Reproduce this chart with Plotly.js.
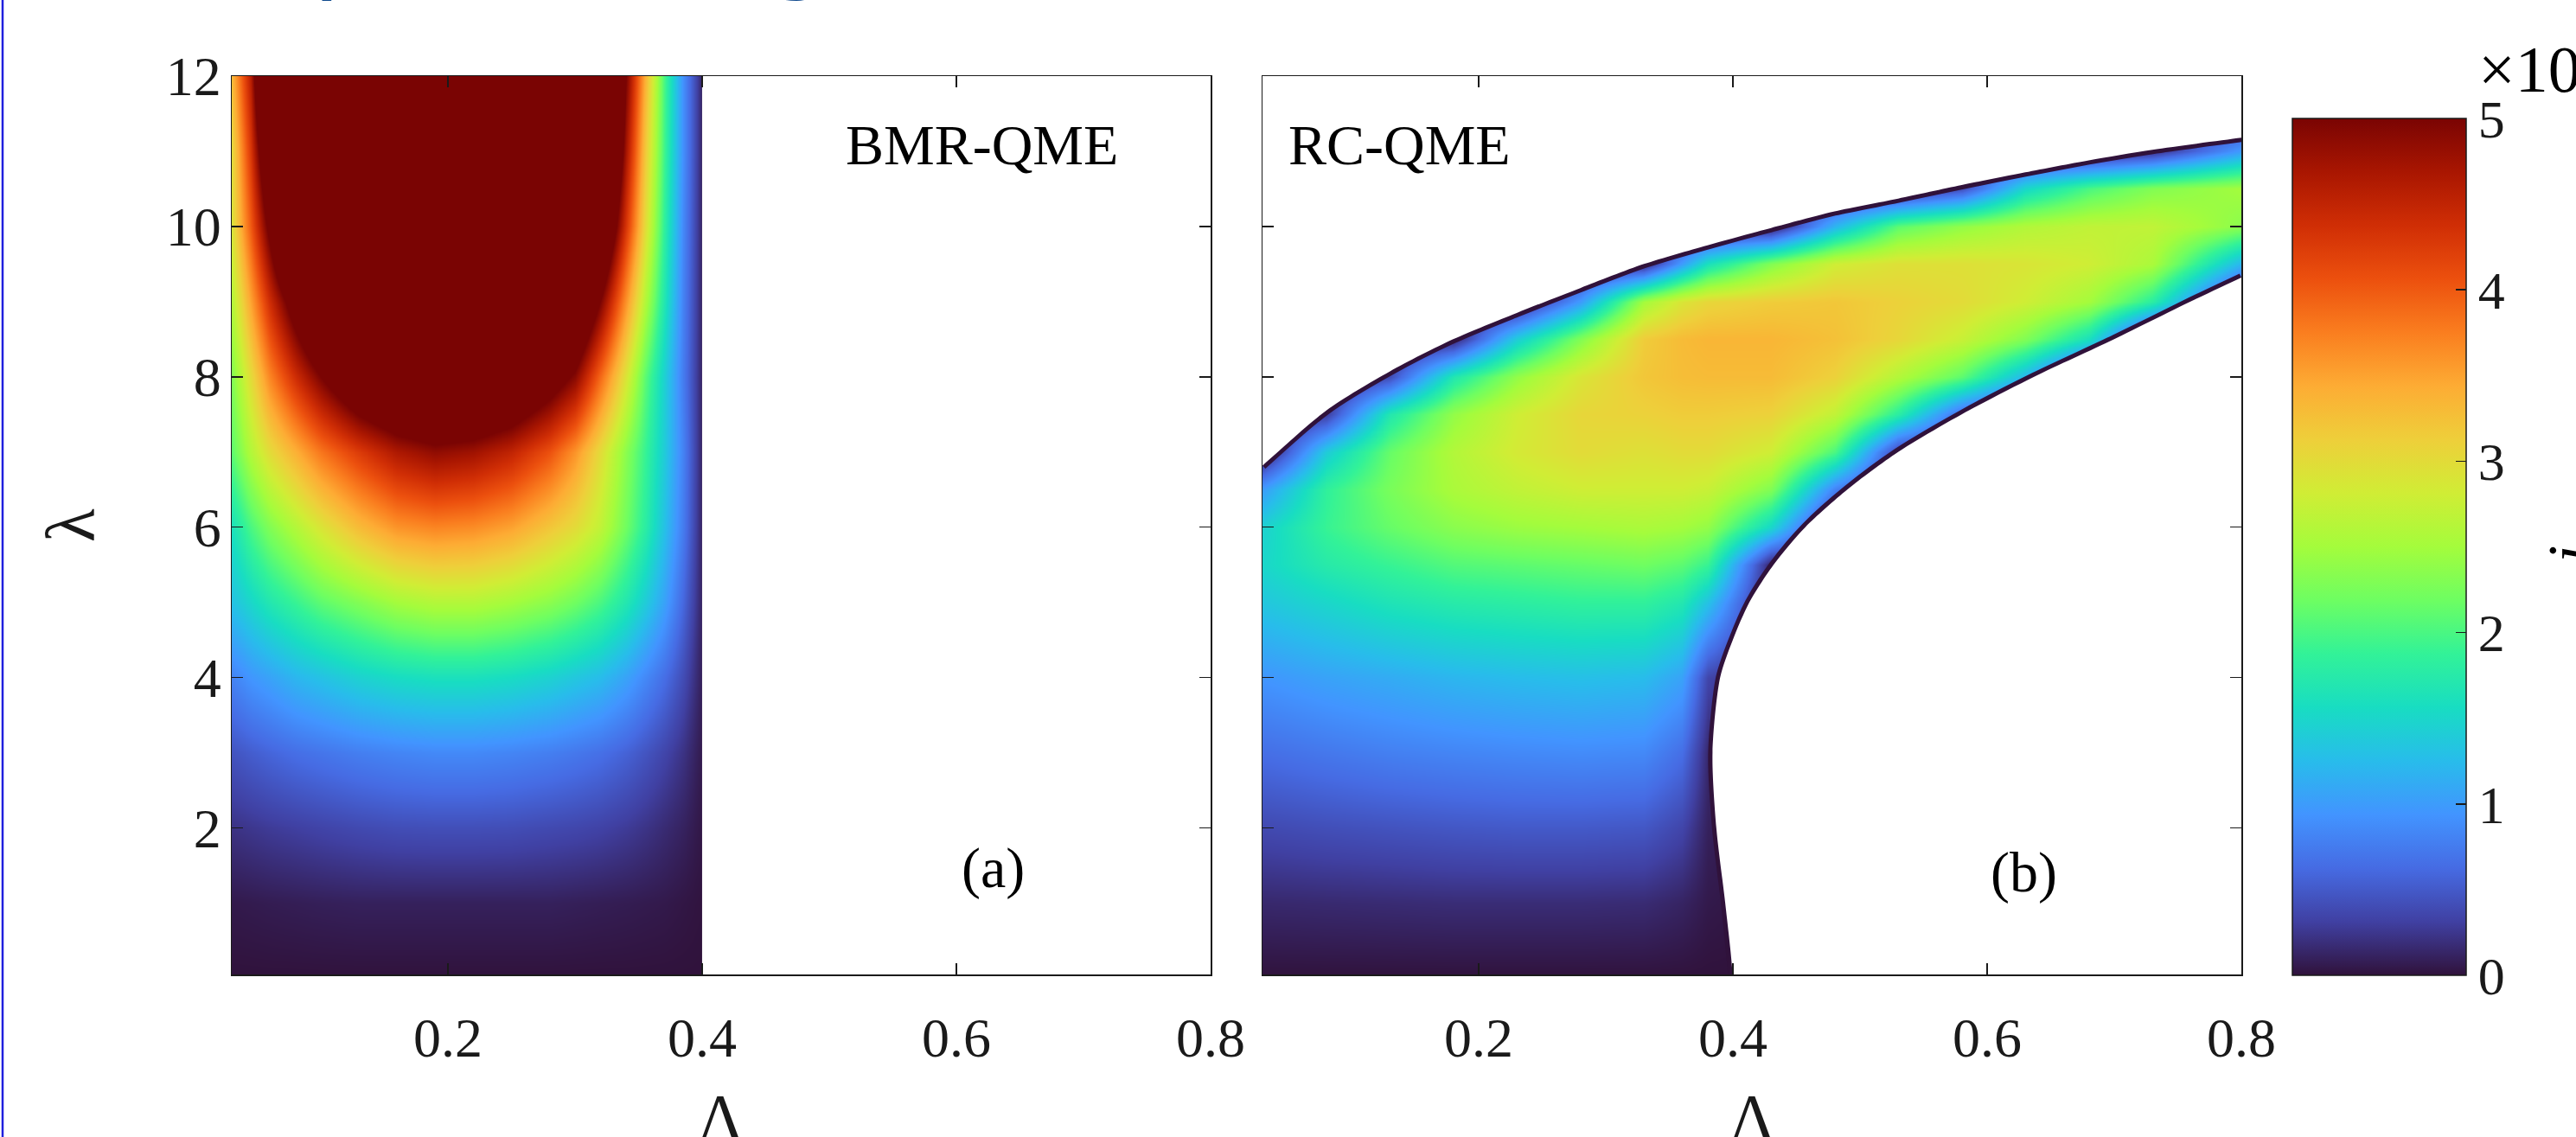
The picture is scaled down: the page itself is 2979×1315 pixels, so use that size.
<!DOCTYPE html>
<html><head><meta charset="utf-8">
<script src="https://cdn.plot.ly/plotly-3.0.1.min.js"></script>
<style>html,body{margin:0;padding:0;background:#fff;}#chart{width:2979px;height:1315px;}</style>
</head><body><div id="chart"></div>
<script>
// ---------------- data ----------------
// Panel (a) BMR-QME: x = Lambda, y = lambda, z = current
const X_A = [0.03,0.045,0.06,0.08,0.10,0.13,0.16,0.19,0.22,0.25,0.28,0.30,0.32,0.34,0.355,0.37,0.385,0.40];
const Y_A = [0,1,2,3,4,5,6,7,8,9,10,11,12];
const Z_A = [
 [0,0,0,0,0,0,0,0,0,0,0,0,0,0,0,0,0,0],
 [0.05,0.06,0.07,0.08,0.09,0.10,0.10,0.10,0.10,0.10,0.10,0.09,0.08,0.07,0.06,0.05,0.03,0.01],
 [0.22,0.25,0.28,0.31,0.34,0.38,0.41,0.42,0.42,0.41,0.38,0.36,0.33,0.28,0.23,0.17,0.11,0.03],
 [0.45,0.52,0.58,0.65,0.70,0.77,0.82,0.85,0.85,0.82,0.77,0.72,0.66,0.56,0.46,0.35,0.22,0.05],
 [0.80,0.95,1.05,1.20,1.30,1.45,1.55,1.60,1.60,1.55,1.45,1.35,1.25,1.05,0.85,0.65,0.40,0.08],
 [1.30,1.50,1.70,1.90,2.10,2.30,2.50,2.60,2.60,2.50,2.35,2.20,2.00,1.70,1.40,1.05,0.60,0.10],
 [1.60,2.00,2.30,2.60,2.90,3.30,3.60,3.70,3.65,3.50,3.20,3.00,2.70,2.20,1.80,1.30,0.75,0.10],
 [2.10,2.60,3.00,3.40,3.80,4.25,4.65,4.85,4.75,4.50,4.05,3.60,3.00,2.35,1.90,1.40,0.80,0.10],
 [2.30,3.00,3.70,4.40,5.00,5.80,6.20,6.40,6.30,6.00,5.40,4.90,3.90,2.90,2.10,1.45,0.75,0.10],
 [2.60,3.50,4.40,5.40,6.30,7.30,7.90,8.10,8.00,7.60,6.90,6.20,5.00,3.60,2.60,1.70,0.80,0.10],
 [2.90,4.00,5.20,7.00,8.00,9.20,9.80,10.0,9.90,9.40,8.60,7.80,6.20,4.30,3.00,1.85,0.85,0.10],
 [3.00,4.30,6.00,8.20,9.50,11.0,11.8,12.0,11.8,11.2,10.2,9.20,7.20,4.70,3.20,1.95,0.90,0.10],
 [3.30,4.60,7.00,9.50,11.0,13.0,14.0,14.4,14.2,13.5,12.3,11.0,8.50,5.00,3.40,2.00,0.90,0.10]
];
const BMR_EDGE = 0.4;   // the BMR-QME map stops at Lambda = 0.4

// Panel (b) RC-QME
const X_B = [0.03,0.08,0.13,0.18,0.23,0.28,0.33,0.36,0.38,0.43,0.48,0.53,0.58,0.63,0.68,0.73,0.80];
const Y_B = [0,1,2,3,4,5,5.5,6,6.5,7,7.5,8,8.5,9,9.5,10,10.5,11,11.5,12];
const Z_B = [
 [0,0,0,0,0,0,0,0,0,0,0,0,0,0,0,0,0],
 [0.15,0.16,0.17,0.18,0.18,0.18,0.17,0.12,0.05,0,0,0,0,0,0,0,0],
 [0.38,0.42,0.45,0.48,0.50,0.50,0.48,0.35,0.10,0,0,0,0,0,0,0,0],
 [0.65,0.72,0.78,0.82,0.85,0.87,0.85,0.65,0.15,0,0,0,0,0,0,0,0],
 [0.95,1.05,1.12,1.20,1.25,1.28,1.25,1.05,0.35,0,0,0,0,0,0,0,0],
 [1.35,1.50,1.65,1.75,1.80,1.85,1.85,1.70,1.30,0,0,0,0,0,0,0,0],
 [1.50,1.75,1.90,2.05,2.10,2.15,2.20,2.10,1.90,0.10,0,0,0,0,0,0,0],
 [1.45,1.90,2.15,2.35,2.45,2.50,2.55,2.50,2.40,1.50,0,0,0,0,0,0,0],
 [1.00,1.85,2.25,2.55,2.70,2.80,2.80,2.80,2.75,2.30,0.80,0,0,0,0,0,0],
 [0,1.40,2.15,2.60,2.85,3.00,2.95,3.00,3.00,2.80,2.00,0.30,0,0,0,0,0],
 [0,0.30,1.70,2.40,2.80,3.05,3.10,3.15,3.15,3.10,2.70,1.80,0.60,0,0,0,0],
 [0,0,0.40,1.70,2.40,2.90,3.20,3.28,3.30,3.30,3.10,2.60,2.10,1.20,0,0,0],
 [0,0,0,0.10,1.40,2.30,3.15,3.30,3.35,3.35,3.25,3.05,2.75,2.30,1.60,0,0],
 [0,0,0,0,0,1.00,2.50,2.90,3.05,3.15,3.20,3.10,3.00,2.80,2.50,1.80,0],
 [0,0,0,0,0,0,0.10,1.00,1.60,2.30,2.80,2.95,2.95,2.90,2.80,2.55,1.20],
 [0,0,0,0,0,0,0,0,0,0,1.20,2.10,2.40,2.60,2.70,2.70,2.35],
 [0,0,0,0,0,0,0,0,0,0,0,0,0.40,1.50,2.00,2.30,2.50],
 [0,0,0,0,0,0,0,0,0,0,0,0,0,0,0,0.20,1.00],
 [0,0,0,0,0,0,0,0,0,0,0,0,0,0,0,0,0],
 [0,0,0,0,0,0,0,0,0,0,0,0,0,0,0,0,0]
];
// edges of the RC-QME region (outside is blank)
const UPPER_X = [0.03,0.08,0.13,0.18,0.23,0.28,0.33,0.38,0.43,0.48,0.53,0.58,0.63,0.68,0.73,0.80];
const UPPER_Y = [6.82,7.55,8.07,8.50,8.85,9.18,9.50,9.75,9.98,10.20,10.37,10.55,10.72,10.88,11.02,11.18];
const LOWER_Y = [0,1,2,3,4,4.5,5,5.5,6,6.5,7,7.5,8,8.5,9,9.32];
const LOWER_X = [0.400,0.394,0.387,0.384,0.390,0.400,0.413,0.432,0.457,0.490,0.530,0.580,0.637,0.700,0.760,0.800];

// ticks
const X_TICKS = [0.2,0.4,0.6,0.8];
const X_TICK_TEXT = ['0.2','0.4','0.6','0.8'];
const Y_TICKS = [2,4,6,8,10,12];
const Y_TICK_TEXT = ['2','4','6','8','10','12'];
const C_TICKS = [0,1,2,3,4,5];
const C_TICK_TEXT = ['0','1','2','3','4','5'];

// ---------------- style ----------------
const W = 2979, H = 1315;
const SERIF = 'Liberation Serif, Times New Roman, serif';
const INK = '#1a1a1a';
const TURBO = [
 [0,'rgb(48,18,59)'],[0.0625,'rgb(64,64,162)'],[0.125,'rgb(70,107,227)'],[0.1875,'rgb(66,148,255)'],
 [0.25,'rgb(40,188,235)'],[0.3125,'rgb(24,221,194)'],[0.375,'rgb(50,242,152)'],[0.4375,'rgb(109,254,98)'],
 [0.5,'rgb(164,252,60)'],[0.5625,'rgb(208,237,53)'],[0.625,'rgb(238,207,58)'],[0.6875,'rgb(253,172,52)'],
 [0.75,'rgb(250,126,31)'],[0.8125,'rgb(236,80,14)'],[0.875,'rgb(208,46,5)'],[0.9375,'rgb(169,22,1)'],
 [1,'rgb(122,4,3)']
];
const PX = v => v / W;
const PY = v => 1 - v / H;
const YDOM = [PY(1127), PY(88)];
const YRANGE = [0.05, 12];
const XRANGE = [0.03, 0.8];
const XDOM_A = [PX(268), PX(1400)];
const XDOM_B = [PX(1460), PX(2592)];

function xAxis(dom, anchor) {
  return {
    domain: dom, anchor: anchor, range: XRANGE, tickmode: 'array', tickvals: X_TICKS, ticktext: X_TICK_TEXT,
    ticks: 'inside', ticklen: 13, tickwidth: 1.5, tickcolor: INK, showline: true, linecolor: INK, linewidth: 1.5,
    mirror: 'ticks', showgrid: false, zeroline: false, ticklabelstandoff: 17,
    tickfont: {family: SERIF, size: 64, color: INK}
  };
}
function yAxis(anchor, labels, title) {
  return {
    domain: YDOM, anchor: anchor, range: YRANGE, tickmode: 'array', tickvals: Y_TICKS, ticktext: Y_TICK_TEXT,
    ticks: 'inside', ticklen: 13, tickwidth: 1.5, tickcolor: INK, showline: true, linecolor: INK, linewidth: 1.5,
    mirror: 'ticks', showgrid: false, zeroline: false, showticklabels: labels, ticklabelstandoff: -2,
    tickfont: {family: SERIF, size: 64, color: INK},
    title: {text: title, font: {family: SERIF, size: 80, color: INK}, standoff: 55}
  };
}

const hm = (x, y, z, xa, ya) => ({type: 'heatmap', x: x, y: y, z: z, xaxis: xa, yaxis: ya,
  coloraxis: 'coloraxis', zsmooth: 'best', hoverinfo: 'skip'});
const mask = (xs, ys, xa, ya, shape) => ({type: 'scatter', mode: 'lines', x: xs, y: ys, xaxis: xa, yaxis: ya,
  fill: 'toself', fillcolor: '#ffffff', line: {width: 0, color: 'rgba(255,255,255,0)', shape: shape, smoothing: 0.8},
  hoverinfo: 'skip', showlegend: false});
const rim = (xs, ys) => ({type: 'scatter', mode: 'lines', x: xs, y: ys, xaxis: 'x2', yaxis: 'y2',
  line: {width: 10, color: 'rgb(48,18,59)', shape: 'spline', smoothing: 0.8}, hoverinfo: 'skip', showlegend: false});

// mask polygons: the edge data, continued along its end slopes past the frame
const nU = UPPER_X.length, nL = LOWER_X.length;
const slope = (xs, ys, i, j) => (ys[j] - ys[i]) / (xs[j] - xs[i]);
const sUL = slope(UPPER_X, UPPER_Y, 0, 1), sUR = slope(UPPER_X, UPPER_Y, nU-2, nU-1);
const sLR = slope(LOWER_X, LOWER_Y, nL-2, nL-1);
const upperMaskX = [UPPER_X[0] - 0.03].concat(UPPER_X, [UPPER_X[nU-1] + 0.03, UPPER_X[nU-1] + 0.06, UPPER_X[0] - 0.06]);
const upperMaskY = [UPPER_Y[0] - 0.03 * sUL].concat(UPPER_Y, [UPPER_Y[nU-1] + 0.03 * sUR, 14, 14]);
const lowerMaskX = [LOWER_X[0]].concat(LOWER_X, [LOWER_X[nL-1] + 0.03, LOWER_X[nL-1] + 0.08]);
const lowerMaskY = [-1].concat(LOWER_Y, [LOWER_Y[nL-1] + 0.03 * sLR, -1]);

const data = [
  hm(X_A, Y_A, Z_A, 'x', 'y'),
  mask([BMR_EDGE, 0.85, 0.85, BMR_EDGE], [-1, -1, 13, 13], 'x', 'y', 'linear'),
  hm(X_B, Y_B, Z_B, 'x2', 'y2'),
  rim(UPPER_X, UPPER_Y),
  rim(LOWER_X, LOWER_Y),
  mask(upperMaskX, upperMaskY, 'x2', 'y2', 'spline'),
  mask(lowerMaskX, lowerMaskY, 'x2', 'y2', 'spline')
];

const ann = (text, x, y, xref, yref, extra) => Object.assign({text: text, x: x, y: y, xref: xref, yref: yref,
  showarrow: false, xanchor: 'center', yanchor: 'middle', font: {family: SERIF, size: 66, color: '#000'}}, extra || {});
const LAMBDA_FONT = {family: SERIF, size: 76, color: INK};

const layout = {
  width: W, height: H, margin: {l: 0, r: 0, t: 0, b: 0}, paper_bgcolor: '#fff', plot_bgcolor: '#fff',
  showlegend: false, font: {family: SERIF, color: INK},
  xaxis: xAxis(XDOM_A, 'y'),
  yaxis: yAxis('x', true, 'λ'),
  xaxis2: xAxis(XDOM_B, 'y2'),
  yaxis2: yAxis('x2', false, ''),
  coloraxis: {
    cmin: 0, cmax: 5, colorscale: TURBO,
    colorbar: {
      x: PX(2651), xanchor: 'left', xref: 'paper', xpad: 0,
      y: PY(1128), yanchor: 'bottom', yref: 'paper', ypad: 0,
      len: 991, lenmode: 'pixels', thickness: 201, thicknessmode: 'pixels',
      outlinewidth: 1.5, outlinecolor: INK, borderwidth: 0,
      tickmode: 'array', tickvals: C_TICKS, ticktext: C_TICK_TEXT, tickprefix: '\u2009',
      ticks: 'inside', ticklen: 12, tickwidth: 1.5, tickcolor: INK,
      tickfont: {family: SERIF, size: 62, color: INK}
    }
  },
  annotations: [
    // x-axis titles (the bottom of the glyph is cut by the picture edge, as in the reference)
    ann('Λ', (XDOM_A[0] + XDOM_A[1]) / 2, PY(1248), 'paper', 'paper', {yanchor: 'top', font: LAMBDA_FONT}),
    ann('Λ', (XDOM_B[0] + XDOM_B[1]) / 2, PY(1248), 'paper', 'paper', {yanchor: 'top', font: LAMBDA_FONT}),
    ann('BMR-QME', 0.620, 11.08, 'x', 'y'),
    ann('(a)', 0.629, 1.46, 'x', 'y'),
    ann('RC-QME', 0.138, 11.08, 'x2', 'y2'),
    ann('(b)', 0.629, 1.41, 'x2', 'y2'),
    ann('×10', PX(2864), PY(80), 'paper', 'paper', {xanchor: 'left', font: {family: SERIF, size: 76, color: '#000'}}),
    ann('j', PX(2972), PY(645), 'paper', 'paper', {textangle: -90, font: {family: SERIF, size: 72, color: '#000', style: 'italic'}}),
    ann('Temperature gradient', PX(120), PY(-75), 'paper', 'paper',
        {xanchor: 'left', font: {family: 'Noto Sans, sans-serif', size: 121, color: '#104a8e'}})
  ],
  shapes: [
    {type: 'line', xref: 'paper', yref: 'paper', x0: PX(3), x1: PX(3), y0: 0, y1: 1, line: {color: '#2020dd', width: 2.5}}
  ]
};

Plotly.newPlot('chart', data, layout, {staticPlot: true, displayModeBar: false});
</script></body></html>
